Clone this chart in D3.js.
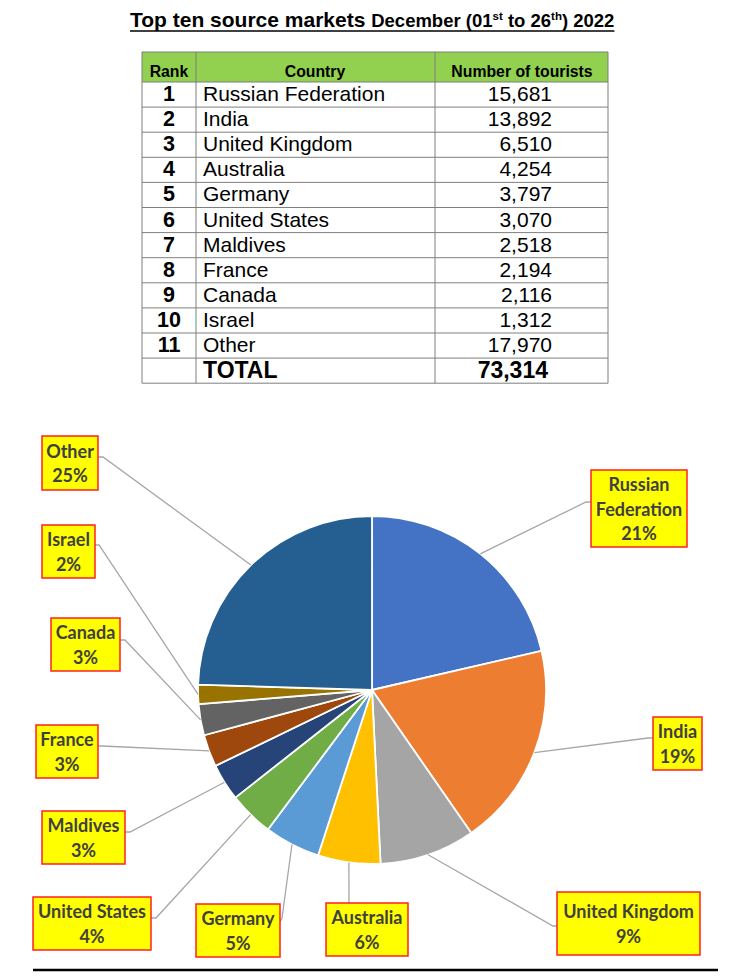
<!DOCTYPE html>
<html><head><meta charset="utf-8">
<script src="https://cdn.jsdelivr.net/npm/d3@7"></script>
<style>
html,body{margin:0;padding:0;background:#fff;}
svg{display:block;}
</style></head>
<body>
<svg id="chart" width="750" height="979"></svg>
<script>
// ---- data ----
const ranks = [1,2,3,4,5,6,7,8,9,10,11];
const countries = ["Russian Federation","India","United Kingdom","Australia","Germany","United States","Maldives","France","Canada","Israel","Other"];
const tourists = [15681,13892,6510,4254,3797,3070,2518,2194,2116,1312,17970];
const pieLabels = ["Russian\nFederation","India","United Kingdom","Australia","Germany","United States","Maldives","France","Canada","Israel","Other"];
const colors = ["#4472C4","#ED7D31","#A5A5A5","#FFC000","#5B9BD5","#70AD47","#264478","#9E480E","#636363","#997300","#255E91"];
const headers = ["Rank","Country","Number of tourists"];
const totalLabel = "TOTAL";

// ---- layout (positions only) ----
const labelBoxes = [
  {x:591,y:470,w:96,h:77},
  {x:653,y:717,w:49,h:53},
  {x:557,y:892,w:143,h:63},
  {x:326,y:903,w:82,h:53},
  {x:196,y:904,w:84,h:53},
  {x:33,y:897,w:118,h:53},
  {x:42,y:811,w:83,h:53},
  {x:36,y:725,w:62,h:53},
  {x:51,y:618,w:69,h:53},
  {x:42,y:525,w:53,h:53},
  {x:42,y:436,w:56,h:54}
];
const anchors = [
  {x:591,y:502,dx:-5,dy:0},
  {x:653,y:738,dx:-5,dy:0},
  {x:557,y:926,dx:-4,dy:0},
  {x:349,y:903,dx:0,dy:0},
  {x:280,y:922,dx:2,dy:-4},
  {x:151,y:918,dx:5,dy:0},
  {x:125,y:832,dx:5,dy:0},
  {x:98,y:746,dx:4,dy:0},
  {x:120,y:640,dx:5,dy:0},
  {x:95,y:545,dx:4,dy:0},
  {x:98,y:457,dx:5,dy:0}
];

const svg = d3.select("#chart");
const total = d3.sum(tourists);
const fmt = d3.format(",");

// ---- title ----
const title = svg.append("text").attr("x",130).attr("y",27)
  .attr("font-family","Liberation Sans, Arial, sans-serif").attr("font-weight","bold").attr("fill","#000");
title.append("tspan").attr("font-size",21).text("Top ten source markets ");
const t2 = title.append("tspan").attr("font-size",18.5);
t2.append("tspan").text("December (01");
t2.append("tspan").attr("font-size",11.5).attr("dy",-7).text("st");
t2.append("tspan").attr("dy",7).text(" to 26");
t2.append("tspan").attr("font-size",11.5).attr("dy",-7).text("th");
t2.append("tspan").attr("dy",7).text(") 2022");
const tb = title.node().getBBox();
svg.append("line").attr("x1",tb.x).attr("x2",tb.x+tb.width).attr("y1",31).attr("y2",31)
  .attr("stroke","#000").attr("stroke-width",1.6);

// ---- table ----
const colX = [142,196,435,608];
const headTop = 52, headH = 30, rowH = 25.1;
const nRows = ranks.length + 1;
const rowY = d3.scaleLinear().domain([0,1]).range([headTop+headH, headTop+headH+rowH]);
const tableBottom = rowY(nRows);
const tbl = svg.append("g").attr("font-family","Liberation Sans, Arial, sans-serif");
tbl.append("rect").attr("x",colX[0]).attr("y",headTop).attr("width",colX[3]-colX[0]).attr("height",headH).attr("fill","#92D050");
const gridColor = "#7f7f7f";
for(let i=0;i<=nRows;i++){
  tbl.append("line").attr("x1",colX[0]).attr("x2",colX[3]).attr("y1",rowY(i)).attr("y2",rowY(i)).attr("stroke",gridColor).attr("stroke-width",1);
}
tbl.append("line").attr("x1",colX[0]).attr("x2",colX[3]).attr("y1",headTop).attr("y2",headTop).attr("stroke",gridColor);
colX.forEach(x=>tbl.append("line").attr("x1",x).attr("x2",x).attr("y1",headTop).attr("y2",tableBottom).attr("stroke",gridColor));
const hx = [169,315,522];
headers.forEach((h,i)=>tbl.append("text").attr("x",hx[i]).attr("y",headTop+25).attr("text-anchor","middle")
  .attr("font-size",15.8).attr("font-weight","bold").attr("fill","#000").text(h));
ranks.forEach((r,i)=>{
  const base = rowY(i)+19;
  tbl.append("text").attr("x",169).attr("y",base).attr("text-anchor","middle").attr("font-size",21.5).attr("font-weight","bold").text(r);
  tbl.append("text").attr("x",203).attr("y",base).attr("font-size",21).text(countries[i]);
  tbl.append("text").attr("x",552).attr("y",base).attr("text-anchor","end").attr("font-size",21).text(fmt(tourists[i]));
});
const tBase = rowY(ranks.length)+20;
tbl.append("text").attr("x",203).attr("y",tBase).attr("font-size",23).attr("font-weight","bold").text(totalLabel);
tbl.append("text").attr("x",548).attr("y",tBase).attr("text-anchor","end").attr("font-size",23).attr("font-weight","bold").text(fmt(total));

// ---- pie ----
const cx = 372, cy = 690, R = 174;
const pie = d3.pie().sort(null).value(d=>d)(tourists);
const arc = d3.arc().innerRadius(0).outerRadius(R);
const outer = d3.arc().innerRadius(R).outerRadius(R);
const pg = svg.append("g").attr("transform",`translate(${cx},${cy})`);
pg.selectAll("path").data(pie).join("path").attr("d",arc)
  .attr("fill",(d,i)=>colors[i]).attr("stroke","#fff").attr("stroke-width",1.8).attr("stroke-linejoin","round");

const lg = svg.append("g");
pie.forEach((d,i)=>{
  const c = outer.centroid(d);
  const a = anchors[i];
  const pts = [[a.x,a.y]];
  if(a.dx||a.dy) pts.push([a.x+a.dx,a.y+a.dy]);
  pts.push([cx+c[0],cy+c[1]]);
  lg.append("path").attr("d",d3.line()(pts)).attr("fill","none").attr("stroke","#A6A6A6").attr("stroke-width",1.3);
});

const pctFmt = d3.format(".0%");
const lbg = svg.append("g").attr("font-family","Lato, 'Open Sans', sans-serif").attr("font-weight","bold");
pie.forEach((d,i)=>{
  const b = labelBoxes[i];
  lbg.append("rect").attr("x",b.x).attr("y",b.y).attr("width",b.w).attr("height",b.h)
    .attr("fill","#FFFF00").attr("stroke","#FF2020").attr("stroke-width",1.5);
  const lines = pieLabels[i].split("\n").concat([pctFmt(d.value/total)]);
  const lh = 24.5;
  const startY = b.y + b.h/2 - (lines.length-1)*lh/2 + 7;
  lines.forEach((ln,j)=>{
    lbg.append("text").attr("x",b.x+b.w/2).attr("y",startY+j*lh).attr("text-anchor","middle")
      .attr("font-size",18).attr("fill","#404040").text(ln);
  });
});

svg.append("line").attr("x1",33).attr("x2",718).attr("y1",970).attr("y2",970).attr("stroke","#000").attr("stroke-width",2.5);
</script>
</body></html>
